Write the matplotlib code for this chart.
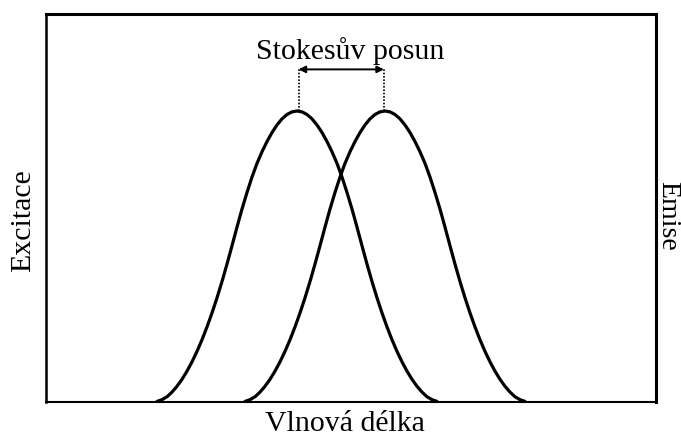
import matplotlib
matplotlib.use("Agg")
import matplotlib.pyplot as plt

# Excitation spectrum (left curve) - wavelength (arbitrary units), relative intensity
excitation_x = [111, 116, 121, 126, 131, 136, 141, 146, 151, 156, 161, 166, 171, 176, 181,
                186, 191, 196, 201, 206, 211, 216, 221, 226, 231, 236, 241, 246, 251,
                256, 261, 266, 271, 276, 281, 286, 291, 296, 301, 306, 311, 316, 321,
                326, 331, 336, 341, 346, 351, 356, 361, 366, 371, 376, 381, 386, 391]
excitation_y = [0.002, 0.008, 0.018, 0.034, 0.054, 0.078, 0.106, 0.138, 0.174, 0.214, 0.258, 0.306, 0.358, 0.414, 0.474,
                0.537, 0.601, 0.663, 0.72, 0.773, 0.82, 0.86, 0.895, 0.926, 0.952, 0.973, 0.988, 0.997, 1.0,
                0.997, 0.988, 0.973, 0.952, 0.926, 0.895, 0.86, 0.82, 0.773, 0.72, 0.663, 0.601, 0.537, 0.474,
                0.414, 0.358, 0.306, 0.258, 0.214, 0.174, 0.138, 0.106, 0.078, 0.054, 0.034, 0.018, 0.008, 0.002]

# Emission spectrum (right curve)
emission_x = [199, 204, 209, 214, 219, 224, 229, 234, 239, 244, 249, 254, 259, 264, 269,
              274, 279, 284, 289, 294, 299, 304, 309, 314, 319, 324, 329, 334, 339,
              344, 349, 354, 359, 364, 369, 374, 379, 384, 389, 394, 399, 404, 409,
              414, 419, 424, 429, 434, 439, 444, 449, 454, 459, 464, 469, 474, 479]
emission_y = [0.002, 0.008, 0.018, 0.034, 0.054, 0.078, 0.106, 0.138, 0.174, 0.214, 0.258, 0.306, 0.358, 0.414, 0.474,
              0.537, 0.601, 0.663, 0.72, 0.773, 0.82, 0.86, 0.895, 0.926, 0.952, 0.973, 0.988, 0.997, 1.0,
              0.997, 0.988, 0.973, 0.952, 0.926, 0.895, 0.86, 0.82, 0.773, 0.72, 0.663, 0.601, 0.537, 0.474,
              0.414, 0.358, 0.306, 0.258, 0.214, 0.174, 0.138, 0.106, 0.078, 0.054, 0.034, 0.018, 0.008, 0.002]

shift_label = "Stokesův posun"
x_label = "Vlnová délka"
left_label = "Excitace"
right_label = "Emise"
shift_level = 1.143

W, H = 681, 436
fig = plt.figure(figsize=(W / 100, H / 100), dpi=100)
ax = fig.add_axes([46 / W, (H - 402) / H, 610 / W, 388 / H])
ax.set_xlim(0, 610)
ax.set_ylim(0, 388 / 291)

ax.plot(excitation_x, excitation_y, color="black", lw=2.3, solid_joinstyle="round", solid_capstyle="round")
ax.plot(emission_x, emission_y, color="black", lw=2.3, solid_joinstyle="round", solid_capstyle="round")

# peak positions
ex_peak = excitation_x[excitation_y.index(max(excitation_y))]
em_peak = emission_x[emission_y.index(max(emission_y))]

ax.plot([ex_peak + 1.5, ex_peak + 1.5], [max(excitation_y), shift_level], color="black", lw=1.2, ls=(0, (1, 1)))
ax.plot([em_peak - 1, em_peak - 1], [max(emission_y), shift_level], color="black", lw=1.2, ls=(0, (1, 1)))
ax.annotate("", xy=(em_peak - 1, shift_level), xytext=(ex_peak + 1.5, shift_level),
            arrowprops=dict(arrowstyle="<|-|>", color="black", lw=1.4, mutation_scale=10,
                            shrinkA=0, shrinkB=0))

ax.set_xticks([])
ax.set_yticks([])
for side, lw in (("top", 2.2), ("left", 1.8), ("right", 2.2), ("bottom", 1.5)):
    ax.spines[side].set_linewidth(lw)
    ax.spines[side].set_color("black")

font = ["Liberation Serif", "DejaVu Serif"]
fig.text(350 / W, (H - 59) / H, shift_label, ha="center", va="baseline", fontsize=21.5, family=font)
fig.text(345 / W, (H - 431) / H, x_label, ha="center", va="baseline", fontsize=21.5, family=font)
fig.text(23 / W, (H - 221) / H, left_label, ha="center", va="center", rotation=90, fontsize=21.5, family=font)
fig.text(668 / W, (H - 216) / H, right_label, ha="center", va="center", rotation=-90, fontsize=20, family=font)

fig.savefig("out.png", dpi=100)
